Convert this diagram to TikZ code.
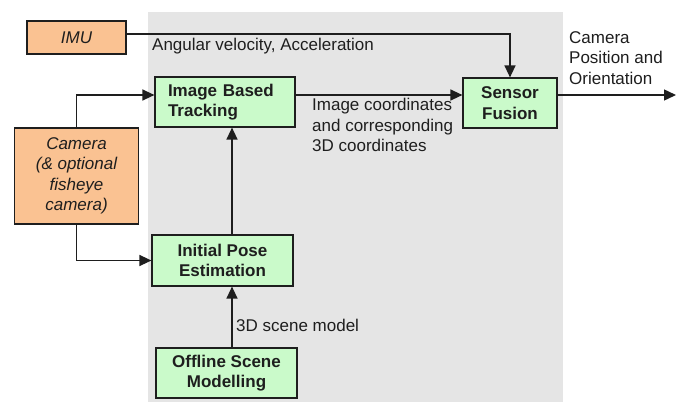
\documentclass[tikz,border=0pt]{standalone}
\usepackage{fontspec}
\setmainfont{Liberation Sans}
\usetikzlibrary{arrows.meta}
\definecolor{inputfill}{RGB}{250,194,146}
\definecolor{procfill}{RGB}{202,250,202}
\definecolor{panel}{RGB}{229,229,229}
\definecolor{ink}{RGB}{30,30,30}
\begin{document}
\begin{tikzpicture}[x=1pt,y=-1pt,
  every node/.style={font=\fontsize{17}{20.5}\selectfont, text=ink, inner sep=0pt},
  inbox/.style={draw=ink, line width=1.2pt, fill=inputfill, font=\fontsize{17}{20.5}\selectfont\itshape, align=center},
  procbox/.style={draw=ink, line width=1.2pt, fill=procfill, font=\fontsize{17}{20.5}\selectfont\bfseries, align=center},
  flow/.style={draw=ink, line width=1.4pt, -{Triangle[length=12pt,width=11pt]}},
  lbl/.style={align=left}]
  % page extent and shaded processing panel
  \useasboundingbox (0,0) rectangle (677,405);
  \fill[white] (0,0) rectangle (677,405);
  \fill[panel] (148,12) rectangle (563,402);

  % helper coordinates for off-centre connector lines
  \coordinate (trk) at (0,95);
  \coordinate (vx) at (232,0);
  \coordinate (imuy) at (0,34);
  \coordinate (outend) at (676,95);

  % input blocks
  \node[inbox, minimum width=99pt, minimum height=33pt] (imu) at (76.5,37.5) {IMU};
  \node[inbox, minimum width=124pt, minimum height=96pt] (cam) at (76.5,176) {Camera\\(\& optional\\fisheye\\camera)};

  % processing blocks
  \node[procbox, minimum width=140pt, minimum height=50pt, align=left, text width=114pt] (ibt) at (225,102) {Image Based\\Tracking};
  \node[procbox, minimum width=94pt, minimum height=50pt] (sf) at (510,103) {Sensor\\Fusion};
  \node[procbox, minimum width=141pt, minimum height=51pt] (ipe) at (222.5,260.5) {Initial Pose\\Estimation};
  \node[procbox, minimum width=141pt, minimum height=50pt] (osm) at (226.5,373) {Offline Scene\\Modelling};

  % connectors
  \draw[flow] (imu.east |- imuy) -| (sf.north);
  \draw[flow] (cam.north) |- (ibt.west |- trk);
  \draw[flow] (cam.south) |- (ipe.west);
  \draw[flow] (ibt.east |- trk) -- (sf.west |- trk);
  \draw[flow] (sf.east |- trk) -- (outend);
  \draw[flow] (ipe.north -| vx) -- (ibt.south -| vx);
  \draw[flow] (osm.north -| vx) -- (ipe.south -| vx);

  % connector labels
  \node[lbl, anchor=west] (lacc) at (152,46) {Angular velocity, Acceleration};
  \node[lbl, anchor=north west] (lcoord) at (312,98) {Image coordinates\\and corresponding\\3D coordinates};
  \node[lbl, anchor=north west] (lpose) at (569,31) {Camera\\Position and\\Orientation};
  \node[lbl, anchor=west] (lscene) at (236,325) {3D scene model};
\end{tikzpicture}
\end{document}
